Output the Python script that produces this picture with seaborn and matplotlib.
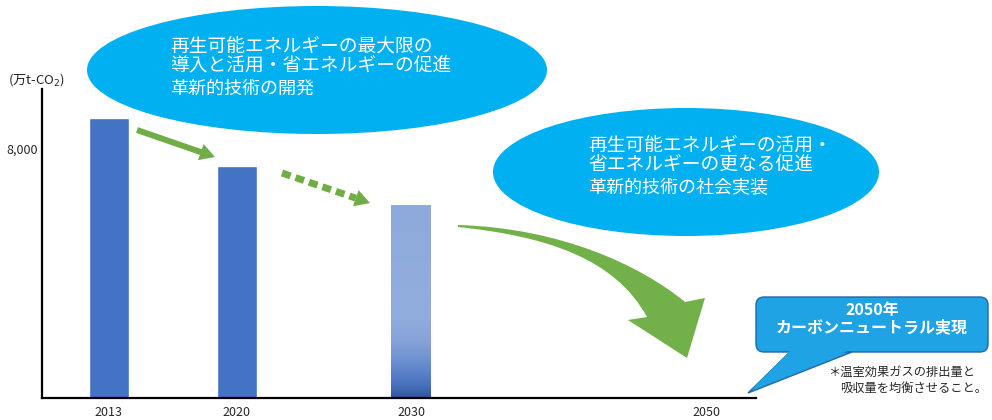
import matplotlib
matplotlib.use("Agg")

import numpy as np
import matplotlib.pyplot as plt
import seaborn as sns
from matplotlib.patches import Ellipse, FancyArrow, Polygon, FancyBboxPatch, PathPatch
from matplotlib.path import Path
from matplotlib.colors import LinearSegmentedColormap

# data (万t-CO2)
YEARS = ["2013", "2020", "2030", "2050"]
BAR_YEARS = ["2013", "2020", "2030"]
EMISSIONS = [9000, 7440, 6200]
Y_TICKS = [8000]
Y_TICK_LABELS = ["8,000"]

# layout (not data): x positions of the years on the axis
X_POS = {"2013": 66.5, "2020": 194.5, "2030": 369.0, "2050": 664.0}

BLUE = "#4472C4"
GREEN = "#70AD47"
CYAN = "#00B0F0"

sns.set_theme(style="white")
plt.rcParams['font.family'] = ['Noto Sans CJK JP', 'DejaVu Sans']

fig = plt.figure(figsize=(9.92, 4.2), dpi=100)
ax = fig.add_axes([42 / 992, 22 / 420, 714 / 992, 309 / 420])

xs = [X_POS[y] for y in BAR_YEARS]
sns.barplot(x=xs, y=EMISSIONS, native_scale=True, width=40 / 128,
            color=BLUE, saturation=1, ax=ax)

ax.set_xlim(0, 714)
ax.set_ylim(0, 9930)
ax.set_xticks([X_POS[y] for y in YEARS])
ax.set_xticklabels(YEARS, fontsize=9)
ax.set_yticks(Y_TICKS)
ax.set_yticklabels(Y_TICK_LABELS, fontsize=9)
ax.tick_params(axis='x', length=0, pad=6)
ax.tick_params(axis='y', length=0, pad=3)
for side in ['top', 'right']:
    ax.spines[side].set_visible(False)
for side in ['left', 'bottom']:
    ax.spines[side].set_color('black')
    ax.spines[side].set_linewidth(1.6)
ax.set_xlabel("")
ax.set_ylabel("")

# 2030 bar: gradient fill
bar = ax.patches[2]
bx, by = bar.get_x(), bar.get_y()
bw, bh = bar.get_width(), bar.get_height()
bar.set_facecolor('none')
grad_cmap = LinearSegmentedColormap.from_list(
    "g", [(0.0, "#2F5597"), (0.07, "#4A72C0"), (0.2, "#6F92D2"),
          (0.3, "#87A3D9"), (0.42, "#92AEDE"), (1.0, "#8EA9DB")])
grad = np.linspace(0, 1, 256).reshape(-1, 1)
im = ax.imshow(grad, cmap=grad_cmap, origin='lower', aspect='auto',
               extent=[bx, bx + bw, by, by + bh], zorder=2)
im.set_clip_path(bar)
ax.set_xlim(0, 714)
ax.set_ylim(0, 9930)

# overlay in pixel coordinates for the annotations
ov = fig.add_axes([0, 0, 1, 1], zorder=5)
ov.set_xlim(0, 992)
ov.set_ylim(420, 0)
ov.axis('off')
ov.patch.set_alpha(0)

ov.text(8, 80, "(万t-CO$_2$)", fontsize=9.5, va='center', ha='left')

# ellipses
ov.add_patch(Ellipse((317, 70), 460, 128, color=CYAN, lw=0))
ov.add_patch(Ellipse((686, 172), 386, 128, color=CYAN, lw=0))

ov.text(170, 47, "再生可能エネルギーの最大限の", color='white', fontsize=13.5, va='center')
ov.text(170, 66, "導入と活用・省エネルギーの促進", color='white', fontsize=13.5, va='center')
ov.text(170, 89, "革新的技術の開発", color='white', fontsize=13, va='center')

ov.text(588, 146, "再生可能エネルギーの活用・", color='white', fontsize=13.5, va='center')
ov.text(588, 165, "省エネルギーの更なる促進", color='white', fontsize=13.5, va='center')
ov.text(588, 188, "革新的技術の社会実装", color='white', fontsize=13, va='center')

# solid arrow 2013 -> 2020
ov.add_patch(FancyArrow(137, 130, 78, 27, width=6, head_width=17, head_length=15,
                        length_includes_head=True, color=GREEN, lw=0))

# dotted arrow 2020 -> 2030
start = np.array([282.0, 173.0])
tip = np.array([370.0, 203.0])
u = (tip - start) / np.linalg.norm(tip - start)
perp = np.array([-u[1], u[0]])
base = tip - 15 * u
ov.plot([start[0], base[0]], [start[1], base[1]], color=GREEN, lw=5,
        linestyle=(0, (1.3, 0.75)), solid_capstyle='butt')
ov.add_patch(Polygon([base + 8.5 * perp, tip, base - 8.5 * perp], color=GREEN, lw=0))

# big curved arrow 2030 -> 2050
verts = [(458, 225), (560, 228), (640, 265), (685, 302),
         (705, 298), (687, 358), (628, 320), (647, 317),
         (615, 258), (545, 236), (458, 227), (458, 225)]
codes = [Path.MOVETO, Path.CURVE4, Path.CURVE4, Path.CURVE4,
         Path.LINETO, Path.LINETO, Path.LINETO, Path.LINETO,
         Path.CURVE4, Path.CURVE4, Path.CURVE4, Path.CLOSEPOLY]
ov.add_patch(PathPatch(Path(verts, codes), facecolor="#72B04A", lw=0))

# callout for 2050
CALLOUT = "#1FA3E4"
EDGE = "#2468A8"
ov.add_patch(FancyBboxPatch((756, 297), 232, 55, boxstyle="round,pad=0,rounding_size=8",
                            facecolor=CALLOUT, edgecolor=EDGE, lw=1))
ov.add_patch(Polygon([(790, 352), (748, 393), (852, 352)], closed=True,
                     facecolor=CALLOUT, edgecolor=EDGE, lw=1))
ov.add_patch(Polygon([(791, 350), (752, 389), (850, 350)], closed=True,
                     facecolor=CALLOUT, lw=0))
ov.text(872, 310, "2050年", color='white', fontsize=11.5, fontweight='bold',
        ha='center', va='center')
ov.text(872, 327, "カーボンニュートラル実現", color='white', fontsize=11.5,
        fontweight='bold', ha='center', va='center')

ov.text(828, 372, "＊温室効果ガスの排出量と", fontsize=8.8, va='center')
ov.text(840, 388, "吸収量を均衡させること。", fontsize=8.8, va='center')

fig.savefig("out.png", dpi=100)
